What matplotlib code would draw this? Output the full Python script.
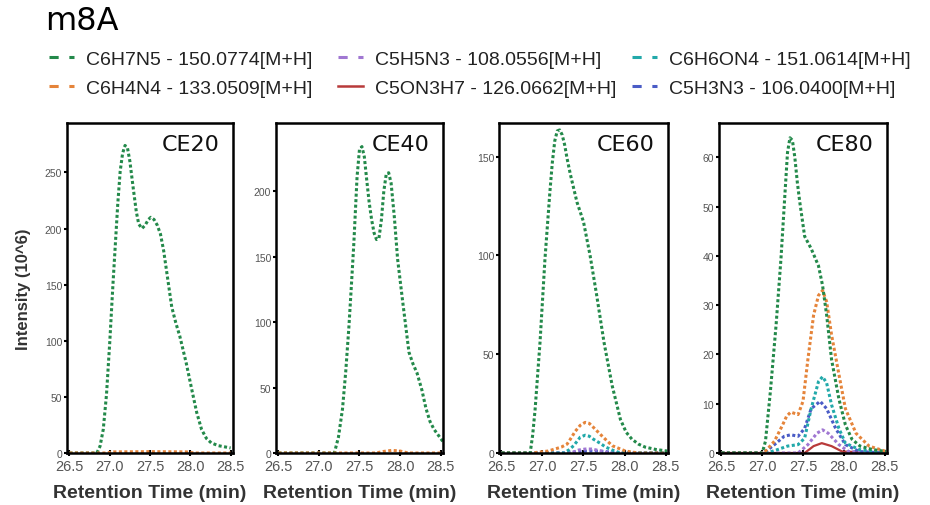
import matplotlib
matplotlib.use('Agg')
import matplotlib.pyplot as plt
from matplotlib.lines import Line2D

# series names, colours
names = ['C6H7N5 - 150.0774[M+H]', 'C6H4N4 - 133.0509[M+H]',
         'C5H5N3 - 108.0556[M+H]', 'C5ON3H7 - 126.0662[M+H]',
         'C6H6ON4 - 151.0614[M+H]', 'C5H3N3 - 106.0400[M+H]']
colors = ['#23894a', '#e5843a', '#a077d2', '#b83a3a', '#22a9aa', '#4a5cc6']

panel_titles = ['CE20', 'CE40', 'CE60', 'CE80']
y_max = [294, 252, 167, 67]
y_ticks = [[0, 50, 100, 150, 200, 250], [0, 50, 100, 150, 200],
           [0, 50, 100, 150], [0, 10, 20, 30, 40, 50, 60]]
x_ticks = [26.5, 27.0, 27.5, 28.0, 28.5]

# CE20
ce20_c6h7n5_t = [26.5, 26.84, 26.88, 26.92, 26.96, 27.0, 27.04, 27.07, 27.1, 27.13, 27.16, 27.19,
                 27.22, 27.25, 27.29, 27.33, 27.36, 27.4, 27.44, 27.48, 27.51, 27.55, 27.59,
                 27.63, 27.67, 27.72, 27.77, 27.82, 27.87, 27.95, 28.02, 28.08, 28.14, 28.2,
                 28.26, 28.35, 28.5]
ce20_c6h7n5_y = [0, 0, 6, 21, 52, 98, 150, 186, 222, 251, 267, 274,
                 272, 260, 237, 215, 204, 200, 203, 208, 210, 208, 203,
                 195, 180, 155, 130, 116, 104, 80, 56, 36, 21, 13,
                 9, 6.5, 4.5]
ce20_c6h4n4_t = [26.5, 26.95, 27.05, 27.5, 27.95, 28.05, 28.5]
ce20_c6h4n4_y = [0, 0, 1, 1.2, 1, 0, 0]

# CE40
ce40_c6h7n5_t = [26.5, 27.19, 27.24, 27.29, 27.33, 27.37, 27.4, 27.43, 27.47, 27.5, 27.53,
                 27.56, 27.59, 27.62, 27.65, 27.68, 27.71, 27.74, 27.77, 27.8, 27.83, 27.86,
                 27.89, 27.93, 27.97, 28.03, 28.11, 28.16, 28.21, 28.27, 28.32, 28.37, 28.42,
                 28.55]
ce40_c6h7n5_y = [0, 0, 12, 33.5, 62, 97, 128, 160, 211, 232, 234,
                 226, 208, 191, 178, 168, 163, 164, 178, 200, 213, 214,
                 206, 180, 148, 117, 77, 68, 61, 48, 34, 24, 18,
                 7]
ce40_c6h4n4_t = [26.5, 27.7, 27.8, 27.9, 28.0, 28.1, 28.5]
ce40_c6h4n4_y = [0, 0, 1.2, 2, 1.5, 0, 0]

# CE60
ce60_c6h7n5_t = [26.5, 26.85, 26.88, 26.91, 26.97, 27.03, 27.09, 27.12, 27.15, 27.18, 27.21,
                 27.24, 27.27, 27.3, 27.34, 27.42, 27.5, 27.58, 27.66, 27.75, 27.85, 27.95,
                 28.02, 28.09, 28.17, 28.25, 28.38, 28.52]
ce60_c6h7n5_y = [0, 0, 9, 22, 56, 98, 132, 147, 158, 163, 163.5,
                 161, 156, 149, 141, 127, 117, 100, 80, 56, 34, 17,
                 10.5, 7, 4.5, 3, 1.8, 1]
ce60_c6h4n4_t = [26.5, 26.87, 27.07, 27.23, 27.3, 27.34, 27.4, 27.46, 27.52, 27.57, 27.62,
                 27.68, 27.74, 27.85, 28.01, 28.17, 28.5]
ce60_c6h4n4_y = [0, 0, 1, 3, 4.5, 7, 11, 14, 15.5, 15, 13,
                 10.5, 8, 3.7, 1, 0, 0]
ce60_c5h5n3_t = [26.5, 27.35, 27.44, 27.52, 27.6, 27.72, 27.8, 28.5]
ce60_c5h5n3_y = [0, 0, 1.5, 2, 2, 1, 0, 0]
ce60_c6h6on4_t = [26.5, 27.26, 27.32, 27.38, 27.46, 27.52, 27.57, 27.62, 27.7, 27.77, 27.85,
                  27.93, 28.5]
ce60_c6h6on4_y = [0, 0, 1.5, 3.7, 8, 9, 8.5, 7, 5, 3, 1.5,
                  0.3, 0]
ce60_c5h3n3_t = [26.5, 27.3, 27.45, 27.6, 27.75, 27.9, 28.5]
ce60_c5h3n3_y = [0, 0, 0.8, 1, 0.8, 0, 0]

# CE80
ce80_c6h7n5_t = [26.5, 27.0, 27.04, 27.1, 27.17, 27.23, 27.28, 27.31, 27.34, 27.37, 27.4,
                 27.43, 27.46, 27.52, 27.6, 27.69, 27.74, 27.79, 27.85, 27.94, 28.02, 28.1,
                 28.2, 28.35, 28.52]
ce80_c6h7n5_y = [0, 0, 2.4, 12.5, 26, 39.5, 53, 61, 64, 63.5, 60,
                 55, 51, 44, 41.5, 38, 34, 28, 19, 11, 5.7, 2.8,
                 1.4, 0.7, 0.3]
ce80_c6h4n4_t = [26.5, 27.02, 27.15, 27.25, 27.3, 27.35, 27.44, 27.5, 27.56, 27.63, 27.69,
                 27.74, 27.79, 27.85, 27.94, 28.02, 28.15, 28.31, 28.52]
ce80_c6h4n4_y = [0, 0, 2.4, 5.7, 7.5, 8.3, 7.8, 10.5, 19, 28, 32,
                 33, 30.7, 24, 16, 9, 4, 1.4, 0.3]
ce80_c5h5n3_t = [26.5, 27.44, 27.56, 27.67, 27.74, 27.81, 27.94, 28.06, 28.5]
ce80_c5h5n3_y = [0, 0, 1.7, 4, 4.7, 4, 1.7, 0.3, 0]
ce80_c5on3h7_t = [26.5, 27.52, 27.63, 27.73, 27.85, 27.98, 28.5]
ce80_c5on3h7_y = [0, 0, 1.4, 2, 1.4, 0.3, 0]
ce80_c6h6on4_t = [26.5, 27.06, 27.19, 27.31, 27.44, 27.52, 27.6, 27.69, 27.74, 27.79, 27.85,
                  27.94, 28.02, 28.19, 28.5]
ce80_c6h6on4_y = [0, 0, 0.7, 1.4, 1.7, 3, 9, 14.5, 15.5, 14.2, 9.8,
                  5, 2, 0.7, 0]
ce80_c5h3n3_t = [26.5, 27.02, 27.15, 27.27, 27.35, 27.44, 27.52, 27.6, 27.71, 27.79, 27.9,
                 28.02, 28.19, 28.5]
ce80_c5h3n3_y = [0, 0, 1.7, 3.4, 3.7, 3.4, 5, 9, 10.5, 9, 5,
                 1.7, 0.3, 0]

panels = [
    [(0, ce20_c6h7n5_t, ce20_c6h7n5_y), (1, ce20_c6h4n4_t, ce20_c6h4n4_y)],
    [(0, ce40_c6h7n5_t, ce40_c6h7n5_y), (1, ce40_c6h4n4_t, ce40_c6h4n4_y)],
    [(5, ce60_c5h3n3_t, ce60_c5h3n3_y), (2, ce60_c5h5n3_t, ce60_c5h5n3_y),
     (4, ce60_c6h6on4_t, ce60_c6h6on4_y), (1, ce60_c6h4n4_t, ce60_c6h4n4_y),
     (0, ce60_c6h7n5_t, ce60_c6h7n5_y)],
    [(3, ce80_c5on3h7_t, ce80_c5on3h7_y), (2, ce80_c5h5n3_t, ce80_c5h5n3_y),
     (5, ce80_c5h3n3_t, ce80_c5h3n3_y), (4, ce80_c6h6on4_t, ce80_c6h6on4_y),
     (1, ce80_c6h4n4_t, ce80_c6h4n4_y), (0, ce80_c6h7n5_t, ce80_c6h7n5_y)],
]

W, H = 930, 506
fig = plt.figure(figsize=(W / 100, H / 100), dpi=100)

# axes boxes in pixels: left, right
boxes = [(67, 233), (276, 443), (499, 668), (719, 887)]
top, bottom = 124, 454

for i, (l, r) in enumerate(boxes):
    ax = fig.add_axes([l / W, 1 - bottom / H, (r - l) / W, (bottom - top) / H])
    for idx, t, y in panels[i]:
        ls = '-' if idx == 3 else (0, (1, 0.8))
        ax.plot(t, y, color=colors[idx], lw=2.2 if idx != 3 else 1.6, linestyle=ls)
    ax.set_xlim(26.47, 28.53)
    ax.set_ylim(0, y_max[i])
    ax.set_xticks(x_ticks)
    ax.set_xticklabels(['%.1f' % v for v in x_ticks])
    ax.set_yticks(y_ticks[i])
    for s in ax.spines.values():
        s.set_linewidth(1.8)
        s.set_color('black')
    ax.tick_params(axis='x', labelsize=10.5, labelcolor='#555555', direction='inout',
                   length=4, width=1.5, pad=2)
    ax.tick_params(axis='y', labelsize=7.5, labelcolor='#555555', direction='out',
                   length=2.5, width=1.5, pad=1)
    for lab in ax.get_xticklabels() + ax.get_yticklabels():
        lab.set_family('Liberation Sans')
    ax.text(0.92, 0.935, panel_titles[i], transform=ax.transAxes, ha='right', va='center',
            fontsize=16, family='DejaVu Sans', color='#111111')
    ax.set_xlabel('Retention Time (min)', fontsize=14, fontweight='bold',
                  family='Liberation Sans', color='#333333', labelpad=8)
    if i == 0:
        ax.set_ylabel('Intensity (10^6)', fontsize=12, fontweight='bold',
                      family='Liberation Sans', color='#333333', labelpad=10)

fig.text(45 / W, 1 - 22 / H, 'm8A', fontsize=23, family='DejaVu Sans', va='center', ha='left')

handles = []
for k in range(6):
    if k == 3:
        handles.append(Line2D([], [], color=colors[k], lw=1.8))
    else:
        handles.append(Line2D([], [], color=colors[k], lw=2.2, linestyle=(0, (3, 3.5))))

# one legend per column, placed where the reference has them
col_x = [49, 338, 632]
for c in range(3):
    leg = fig.legend(handles[2 * c:2 * c + 2], names[2 * c:2 * c + 2], loc='upper left',
                     bbox_to_anchor=(col_x[c] / W, 1 - 51 / H), frameon=False,
                     prop={'family': 'Liberation Sans', 'size': 14},
                     handlelength=1.3, handletextpad=0.6, labelspacing=0.62,
                     borderpad=0, borderaxespad=0)
    for txt in leg.get_texts():
        txt.set_color('#222222')

fig.savefig('out.png', dpi=100)
